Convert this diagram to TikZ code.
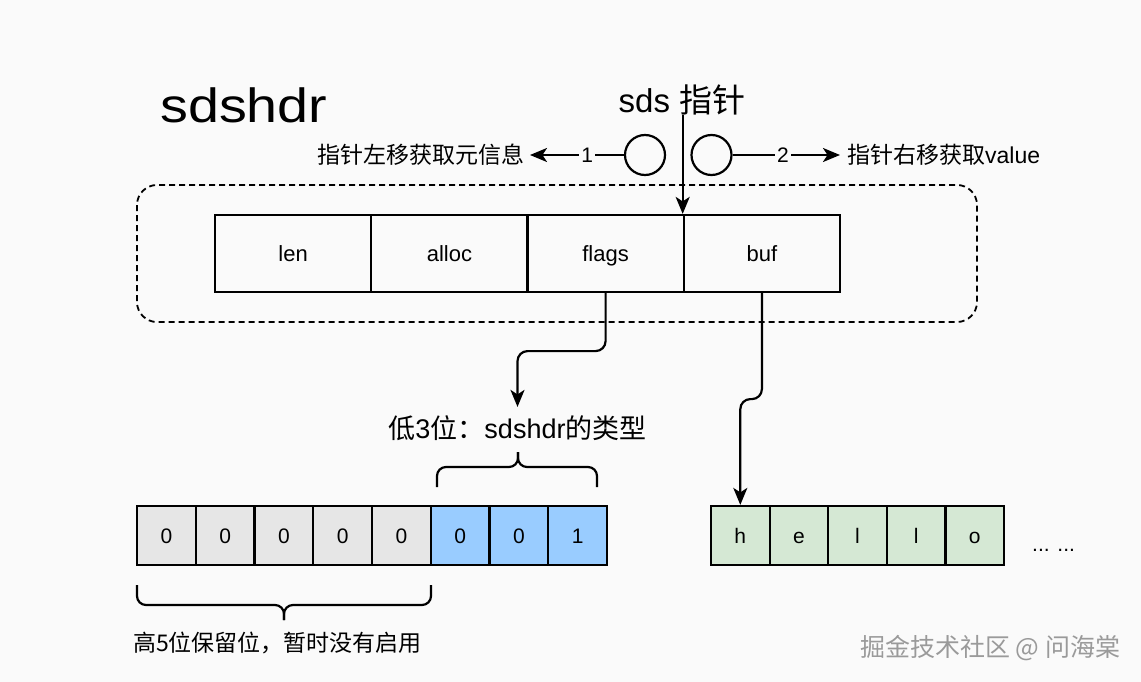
\documentclass[tikz,border=0pt]{standalone}
\usepackage{fontspec}
\setmainfont{Liberation Sans}
\newfontfamily\cjk{Noto Sans CJK SC}
\usetikzlibrary{arrows.meta}
\newcommand{\setfs}[1]{\fontsize{#1pt}{#1pt}\selectfont}
\definecolor{bg}{HTML}{FAFAFA}
\definecolor{cGray}{HTML}{E6E6E6}
\definecolor{cBlue}{HTML}{99CCFF}
\definecolor{cGreen}{HTML}{D5E8D4}
\definecolor{cWm}{HTML}{9A9A9A}
\begin{document}
\begin{tikzpicture}[x=1pt,y=-1pt,
  every node/.style={inner sep=0pt},
  arr/.style={line width=2.2pt,-{Stealth[length=17pt,width=14pt,inset=4.5pt]}},
  cellbase/.style={draw,line width=2.2pt,text depth=0pt},
  fieldbox/.style={cellbase,text height=15.75pt,minimum width=156.25pt,minimum height=77pt,font=\setfs{22}},
  bitbox/.style={cellbase,text height=15pt,minimum width=58.75pt,minimum height=59pt,font=\setfs{21}},
  chbox/.style={cellbase,text height=15pt,minimum width=58.6pt,minimum height=59pt,font=\setfs{21},fill=cGreen},
  ring/.style={draw,circle,line width=2.2pt,minimum size=40pt},
  brace/.style={line width=2.2pt,rounded corners=9pt},
  lbl/.style={fill=bg,inner xsep=2pt,inner ysep=1pt,font=\setfs{21}}
]
\fill[bg] (0,0) rectangle (1141,682);
\useasboundingbox (0,0) rectangle (1141,682);

% title
\node[anchor=base west,font=\setfs{48}] (title) at (160,123) {\scalebox{1.16}[1]{sdshdr}};

% pointer
\node[font=\setfs{33}] (sds) at (682,100) {sds {\cjk 指针}};

% dashed frame
\draw[line width=1.8pt,dash pattern=on 6pt off 4pt,rounded corners=20pt] (137,185) rectangle (977,322);

% struct fields
\node[fieldbox] (len) at (293.1,253.5) {len};
\node[fieldbox] (alloc) at (449.4,253.5) {alloc};
\node[fieldbox] (flags) at (605.6,253.5) {flags};
\node[fieldbox] (buf) at (761.9,253.5) {buf};

\draw[arr] (buf.north west |- sds.south) -- (buf.north west);

% circles and side arrows
\node[ring] (c1) at (645,155) {};
\node[ring] (c2) at (711.5,155) {};
\node[anchor=east,inner xsep=5pt,font=\setfs{23}\cjk] (lt) at (530,155) {指针左移获取元信息};
\node[anchor=west,inner xsep=7pt,font=\setfs{23}] (rt) at (840,155) {{\cjk 指针右移获取}value};
\draw[arr] (c1.west) -- node[lbl,pos=0.39] (n1) {1} (lt.east);
\draw[arr] (c2.east) -- node[lbl,pos=0.47] (n2) {2} (rt.west);

% bits
\node[bitbox,fill=cGray] (b1) at (166.4,535.5) {0};
\node[bitbox,fill=cGray] (b2) at (225.1,535.5) {0};
\node[bitbox,fill=cGray] (b3) at (283.9,535.5) {0};
\node[bitbox,fill=cGray] (b4) at (342.6,535.5) {0};
\node[bitbox,fill=cGray] (b5) at (401.4,535.5) {0};
\node[bitbox,fill=cBlue] (b6) at (460.1,535.5) {0};
\node[bitbox,fill=cBlue] (b7) at (518.9,535.5) {0};
\node[bitbox,fill=cBlue] (b8) at (577.6,535.5) {1};

% hello
\node[chbox] (h1) at (740.3,535.5) {h};
\node[chbox] (h2) at (798.9,535.5) {e};
\node[chbox] (h3) at (857.5,535.5) {l};
\node[chbox] (h4) at (916.1,535.5) {l};
\node[chbox] (h5) at (974.7,535.5) {o};
\node[anchor=base west,font=\setfs{21}] (dots) at (1032,551) {... ...};

% type label and brace
\node[anchor=base,inner ysep=8pt,font=\setfs{27}] (l3) at (517.5,438) {{\cjk 低}3{\cjk 位：}sdshdr{\cjk 的类型}};
\draw[brace] (437,487) -- (437,467) -- (518,467) -- (518,452);
\draw[brace] (597,487) -- (597,467) -- (518,467) -- (518,452);

% reserved label and brace
\draw[brace] (137,585) -- (137,605) -- (284,605) -- (284,620);
\draw[brace] (431,585) -- (431,605) -- (284,605) -- (284,620);
\node[anchor=base west,font=\setfs{23}\cjk] (l5) at (133,651) {高5位保留位，暂时没有启用};

% connectors
\draw[arr,rounded corners=10pt] (flags.south) -- ++(0,58) -| (l3.north);
\draw[arr,rounded corners=10pt] (buf.south) -- ++(0,106) -| (h1.north);

% watermark
\node[anchor=base west,font=\setfs{25}\cjk,text=cWm] (wm) at (860,656) {掘金技术社区 @ 问海棠};
\end{tikzpicture}
\end{document}
